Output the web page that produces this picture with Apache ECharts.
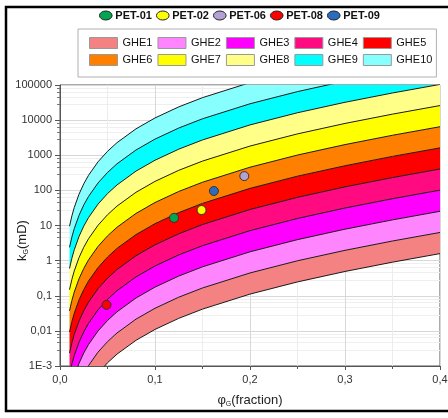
<!DOCTYPE html>
<html lang="en">
<head>
    <meta charset="UTF-8">
    <title>GHE</title>
    <script src="https://cdn.jsdelivr.net/npm/echarts@6/dist/echarts.min.js"></script>
</head>
<body style="margin:0">
<div id="main" style="width: 448px;height: 418px"></div>
<script>
    // porosidade (fração) onde os limites foram lidos
    var phi = [0.01, 0.0125, 0.015, 0.02, 0.025, 0.03, 0.04, 0.05, 0.06, 0.08, 0.1, 0.125, 0.15, 0.2, 0.25, 0.3, 0.35, 0.4];
    // limites de permeabilidade (mD) entre as GHE, de baixo para cima
    var kLimit0 = [9.09e-6, 1.785e-5, 3.10e-5, 7.42e-5, 1.465e-4, 2.56e-4, 6.19e-4, 1.234e-3, 2.179e-3, 5.39e-3, 1.100e-2, 2.273e-2, 4.163e-2, 0.1114, 0.2476, 0.4911, 0.9044, 1.584];
    var kLimit1 = [3.64e-5, 7.14e-5, 1.24e-4, 2.97e-4, 5.86e-4, 1.023e-3, 2.476e-3, 4.937e-3, 8.714e-3, 2.156e-2, 4.401e-2, 9.094e-2, 0.1665, 0.4456, 0.9902, 1.964, 3.618, 6.338];
    var kLimit2 = [1.455e-4, 2.856e-4, 4.96e-4, 1.188e-3, 2.344e-3, 4.093e-3, 9.902e-3, 1.975e-2, 3.486e-2, 8.626e-2, 0.1761, 0.3637, 0.6661, 1.782, 3.961, 7.857, 14.47, 25.35];
    var kLimit3 = [5.82e-4, 1.142e-3, 1.984e-3, 4.751e-3, 9.376e-3, 1.637e-2, 3.961e-2, 7.90e-2, 0.1394, 0.345, 0.7042, 1.455, 2.664, 7.13, 15.84, 31.43, 57.88, 101.4];
    var kLimit4 = [2.328e-3, 4.57e-3, 7.94e-3, 1.90e-2, 3.75e-2, 6.55e-2, 0.1584, 0.316, 0.5577, 1.38, 2.817, 5.82, 10.66, 28.52, 63.38, 125.7, 231.5, 405.6];
    var kLimit5 = [9.31e-3, 1.828e-2, 3.174e-2, 7.60e-2, 0.150, 0.2619, 0.6338, 1.264, 2.231, 5.52, 11.27, 23.28, 42.63, 114.1, 253.5, 502.9, 926.1, 1622];
    var kLimit6 = [3.724e-2, 7.312e-2, 0.127, 0.3041, 0.600, 1.048, 2.535, 5.056, 8.924, 22.08, 45.08, 93.12, 170.5, 456.4, 1014, 2012, 3704, 6488];
    var kLimit7 = [0.149, 0.2925, 0.508, 1.216, 2.40, 4.19, 10.14, 20.22, 35.7, 88.32, 180.3, 372.5, 682, 1826, 4056, 8046, 14816, 25952];
    var kLimit8 = [0.596, 1.17, 2.032, 4.866, 9.60, 16.76, 40.56, 80.9, 142.8, 353.3, 721.3, 1490, 2728, 7302, 16224, 32186, 59265, 103810];
    var kLimit9 = [2.384, 4.68, 8.128, 19.46, 38.4, 67.05, 162.3, 323.6, 571.1, 1413, 2885, 5960, 10912, 29210, 64896, 128745, 237060, 415240];
    var kLimit10 = [9.536, 18.72, 32.51, 77.86, 153.6, 268.2, 649.1, 1294, 2285, 5651, 11540, 23840, 43650, 116840, 259580, 514980, 948240, 1660960];
    var kLimits = [kLimit0, kLimit1, kLimit2, kLimit3, kLimit4, kLimit5, kLimit6, kLimit7, kLimit8, kLimit9, kLimit10];

    var gheNames = ['GHE1', 'GHE2', 'GHE3', 'GHE4', 'GHE5', 'GHE6', 'GHE7', 'GHE8', 'GHE9', 'GHE10'];
    var gheColors = ['#f48282', '#ff85ff', '#ff00ff', '#ff0a80', '#ff0000', '#ff8000', '#ffff00', '#ffff88', '#00ffff', '#88ffff'];

    // amostras dos poços
    var petNames = ['PET-01', 'PET-02', 'PET-06', 'PET-08', 'PET-09'];
    var petPhi = [0.12, 0.149, 0.194, 0.049, 0.162];
    var petK = [16.5, 27.5, 255, 0.055, 96];
    var petColors = ['#00a651', '#ffff00', '#b3a2d6', '#ff0000', '#2b6cc0'];

    var xTickLabels = ['0,0', '0,1', '0,2', '0,3', '0,4'];
    var yTickLabels = ['1E-3', '0,01', '0,1', '1', '10', '100', '1000', '10000', '100000'];

    var myChart = echarts.init(document.getElementById('main'));

    var series = [];
    // faixas coloridas (poligono entre dois limites)
    gheNames.forEach(function (name, i) {
        series.push({
            name: name,
            type: 'custom',
            clip: true,
            silent: true,
            z: 2,
            itemStyle: {color: gheColors[i]},
            data: [[0.2, 1]],
            renderItem: function (params, api) {
                var lo = kLimits[i], hi = kLimits[i + 1];
                var pts = [];
                for (var j = 0; j < phi.length; j++) pts.push(api.coord([phi[j], lo[j]]));
                for (var j = phi.length - 1; j >= 0; j--) pts.push(api.coord([phi[j], hi[j]]));
                return {type: 'polygon', shape: {points: pts}, style: {fill: gheColors[i]}};
            }
        });
    });
    // linhas de limite
    kLimits.forEach(function (k, i) {
        series.push({
            name: 'lim' + i,
            type: 'line',
            silent: true,
            symbol: 'none',
            z: 3,
            lineStyle: {color: '#1a1a1a', width: 1},
            data: phi.map(function (p, j) { return [p, k[j]]; })
        });
    });
    // pontos
    petNames.forEach(function (name, i) {
        series.push({
            name: name,
            type: 'scatter',
            z: 5,
            symbolSize: 9,
            itemStyle: {color: petColors[i], borderColor: '#333', borderWidth: 1, opacity: 1},
            data: [[petPhi[i], petK[i]]]
        });
    });

    var option = {
        animation: false,
        backgroundColor: '#fff',
        textStyle: {fontFamily: 'Liberation Sans'},
        graphic: [{
            type: 'rect',
            shape: {x: 6, y: 7, width: 470, height: 404},
            style: {fill: 'none', stroke: '#000', lineWidth: 2.5},
            silent: true
        }],
        legend: [{
            data: petNames,
            left: 99,
            top: 10,
            padding: 0,
            itemGap: 4,
            itemWidth: 15,
            itemHeight: 9,
            icon: 'path://M0,5a7,5 0 1,0 14,0a7,5 0 1,0 -14,0z',
            itemStyle: {borderColor: '#222', borderWidth: 1},
            selectedMode: false,
            textStyle: {fontSize: 11, fontWeight: 'bold', color: '#111', padding: [0, 0, 0, -3]}
        }, {
            data: gheNames,
            left: 78,
            top: 29,
            width: 345,
            padding: [8, 4, 11, 11],
            borderColor: '#b0b0b0',
            borderWidth: 1,
            itemGap: 5,
            itemWidth: 28,
            itemHeight: 11,
            icon: 'rect',
            itemStyle: {borderColor: '#999', borderWidth: 1},
            selectedMode: false,
            textStyle: {fontSize: 11, color: '#111'}
        }],
        grid: {
            left: 60, right: 8, top: 85, bottom: 52,
            outerBoundsMode: 'none',
            containLabel: false,
            show: true, borderColor: '#555', borderWidth: 1
        },
        xAxis: {
            type: 'value',
            min: 0, max: 0.4, interval: 0.1,
            name: '{p|φ}{s|G}{k|(fraction)}',
            nameLocation: 'middle',
            nameGap: 26,
            nameMoveOverlap: false,
            nameTextStyle: {
                rich: {
                    p: {fontSize: 13, color: '#222', lineHeight: 16},
                    s: {fontSize: 7, color: '#222', verticalAlign: 'bottom', padding: [9, 0, 0, 0]},
                    k: {fontSize: 13, color: '#222', lineHeight: 16}
                }
            },
            axisLine: {lineStyle: {color: '#555'}},
            axisTick: {length: 4, lineStyle: {color: '#555'}},
            minorTick: {show: true, splitNumber: 2, length: 3, lineStyle: {color: '#555'}},
            splitLine: {lineStyle: {color: '#d8d8d8'}},
            minorSplitLine: {show: true, lineStyle: {color: '#ececec'}},
            axisLabel: {
                fontSize: 11, color: '#333', margin: 8,
                formatter: function (v) { return xTickLabels[Math.round(v * 10)]; }
            }
        },
        yAxis: {
            type: 'log',
            logBase: 10,
            min: 0.001, max: 100000,
            name: '{k|k}{s|G}{k|(mD)}',
            nameLocation: 'middle',
            nameGap: 30,
            nameMoveOverlap: false,
            nameTextStyle: {
                padding: [0, 30, 0, 0],
                rich: {
                    s: {fontSize: 7, color: '#222', verticalAlign: 'bottom', padding: [9, 0, 0, 0]},
                    k: {fontSize: 13, color: '#222', lineHeight: 16}
                }
            },
            axisLine: {show: true, lineStyle: {color: '#555'}},
            axisTick: {show: true, length: 5, lineStyle: {color: '#555'}},
            minorTick: {show: true, splitNumber: 5, length: 3, lineStyle: {color: '#777'}},
            splitLine: {lineStyle: {color: '#d8d8d8'}},
            minorSplitLine: {show: true, lineStyle: {color: '#efefef'}},
            axisLabel: {
                fontSize: 11, color: '#333', margin: 8,
                formatter: function (v) {
                    var i = Math.round(Math.log(v) / Math.LN10) + 3;
                    return yTickLabels[i] || '';
                }
            }
        },
        series: series
    };
    myChart.setOption(option);
</script>
</body>
</html>
